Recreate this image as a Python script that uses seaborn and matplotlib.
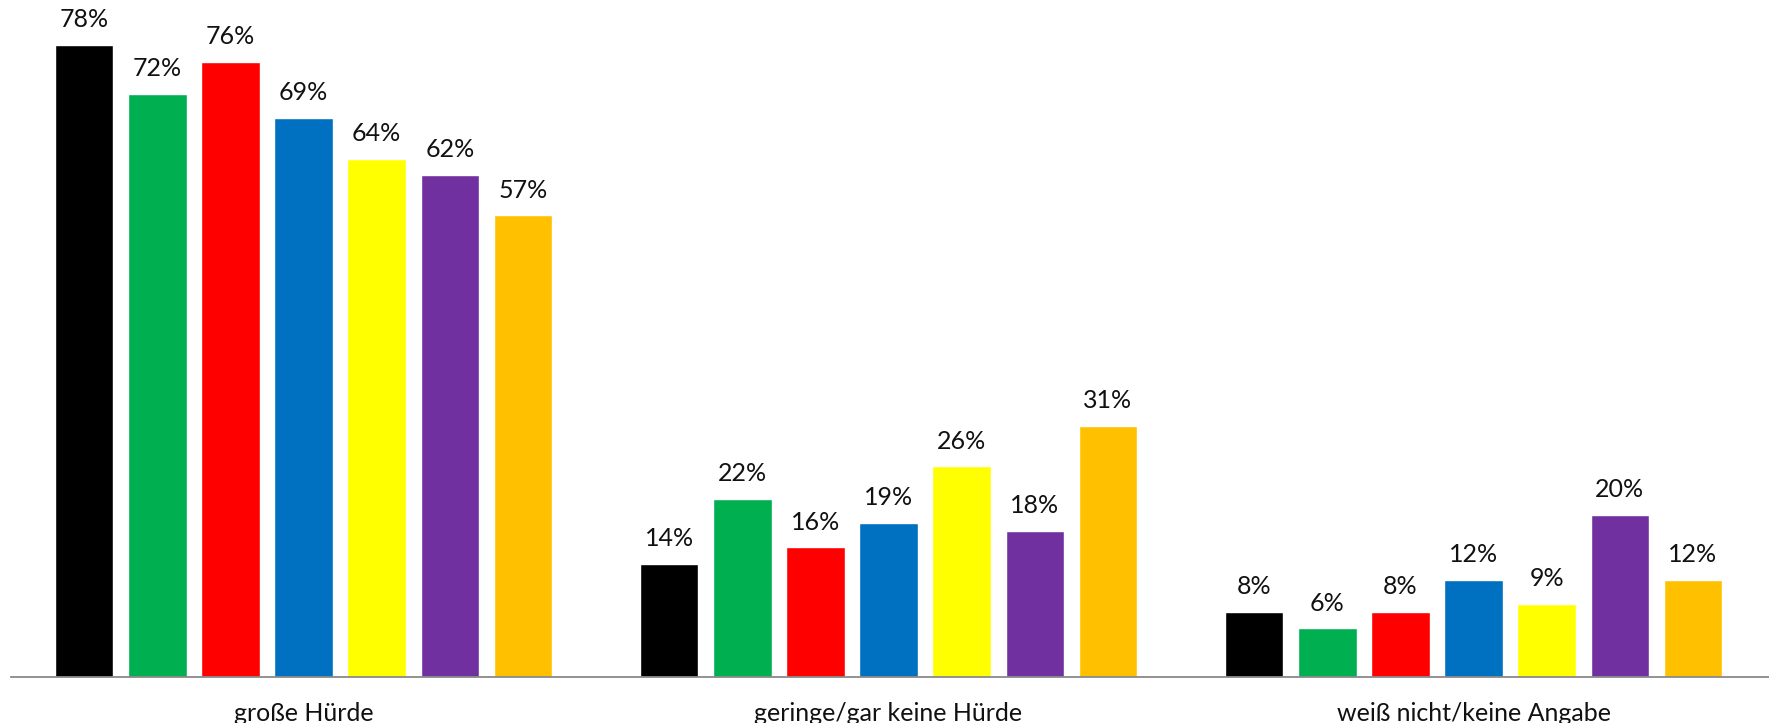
import matplotlib
matplotlib.use("Agg")
import matplotlib.pyplot as plt
import seaborn as sns
import pandas as pd

categories = ["große Hürde", "geringe/gar keine Hürde", "weiß nicht/keine Angabe"]
series = ["Gruppe 1", "Gruppe 2", "Gruppe 3", "Gruppe 4", "Gruppe 5", "Gruppe 6", "Gruppe 7"]
colors = ["#000000", "#00B050", "#FF0000", "#0070C0", "#FFFF00", "#7030A0", "#FFC000"]
values = {
    "große Hürde":             [78, 72, 76, 69, 64, 62, 57],
    "geringe/gar keine Hürde": [14, 22, 16, 19, 26, 18, 31],
    "weiß nicht/keine Angabe": [8, 6, 8, 12, 9, 20, 12],
}

rows = []
for c in categories:
    for s, v in zip(series, values[c]):
        rows.append({"Kategorie": c, "Gruppe": s, "Wert": v})
df = pd.DataFrame(rows)

sns.set_theme(style="white")
plt.rcParams["font.family"] = ["Lato", "DejaVu Sans"]

W, H = 1769, 723
fig = plt.figure(figsize=(W / 100, H / 100), dpi=100)
ax = fig.add_axes([11 / W, 46 / H, 1 - 11 / W, 677 / H])

sns.barplot(data=df, x="Kategorie", y="Wert", hue="Gruppe", order=categories,
            hue_order=series, palette=colors, saturation=1, width=0.875, gap=0.2,
            errorbar=None, legend=False, ax=ax)

for cont in ax.containers:
    ax.bar_label(cont, fmt="%.0f%%", padding=10, fontsize=18, color="#111111")

ax.set_ylim(0, 83.6)
ax.set_xlim(-0.5, 2.505)
ax.set_xlabel("")
ax.set_ylabel("")
ax.set_yticks([])
for side in ["left", "right", "top"]:
    ax.spines[side].set_visible(False)
ax.spines["bottom"].set_color("#898989")
ax.spines["bottom"].set_linewidth(1.3)
ax.tick_params(axis="x", length=0, pad=18, labelsize=18, labelcolor="#111111")

fig.savefig("out.png", dpi=100)
